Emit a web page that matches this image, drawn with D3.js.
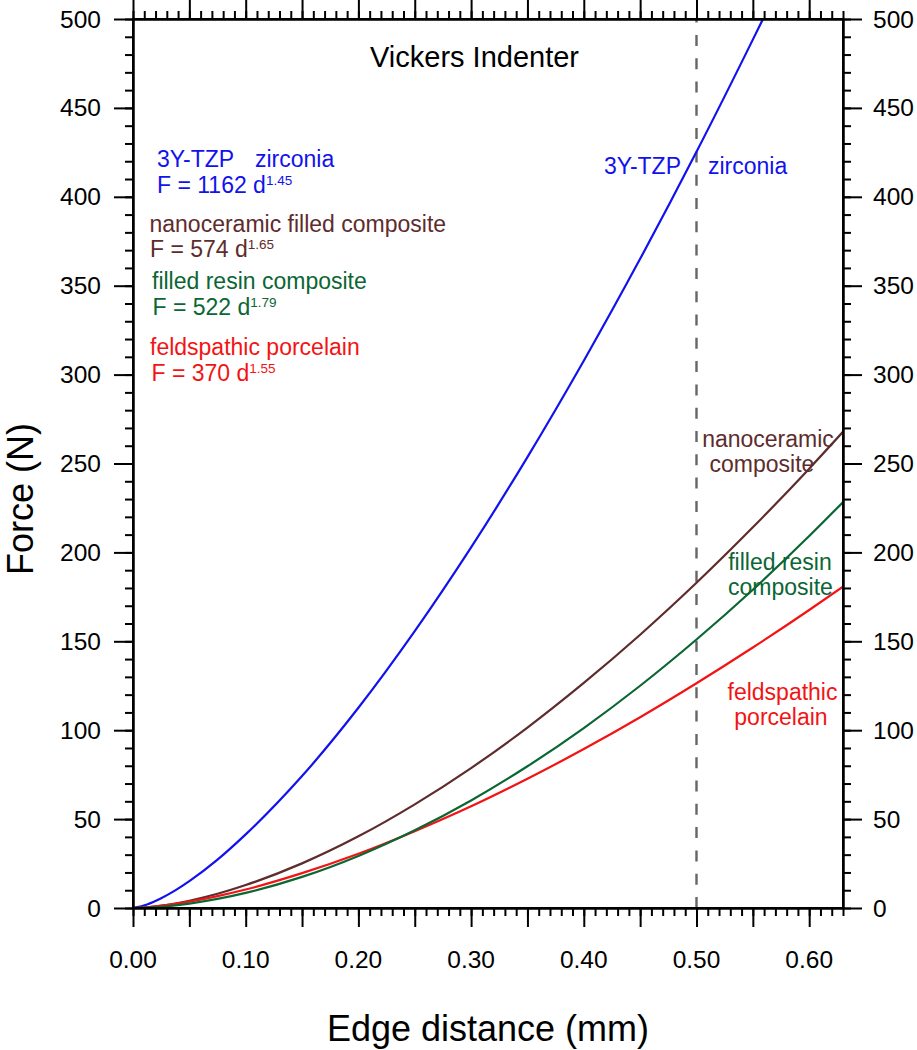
<!DOCTYPE html>
<html>
<head>
<meta charset="utf-8">
<script src="https://cdn.jsdelivr.net/npm/d3@7"></script>
<style>
  html, body { margin: 0; padding: 0; background: #fff; }
  svg { display: block; font-family: "Liberation Sans", Arial, Helvetica, sans-serif; }
</style>
</head>
<body>
<svg id="chart" width="917" height="1050"></svg>
<script>
// ---- data ----
const distances = [0, 0.0125, 0.025, 0.0375, 0.05, 0.075, 0.10, 0.15, 0.20, 0.25, 0.30, 0.35, 0.40, 0.45, 0.50, 0.55, 0.60, 0.63];
const zirconiaDistances = [0, 0.0125, 0.025, 0.0375, 0.05, 0.075, 0.10, 0.15, 0.20, 0.25, 0.30, 0.35, 0.40, 0.45, 0.50, 0.55, 0.56];
const zirconiaForce = [0, 2.0, 5.5, 9.9, 15.1, 27.2, 41.4, 74.2, 112.6, 155.7, 202.8, 253.6, 307.8, 365.1, 425.3, 488.4, 501.3];
const nanoceramicForce = [0, 0.42, 1.3, 2.55, 4.1, 8.0, 12.9, 25.1, 40.3, 58.3, 78.7, 101.5, 126.6, 153.7, 182.9, 214.1, 247.1, 267.8];
const filledResinForce = [0, 0.2, 0.7, 1.46, 2.5, 5.1, 8.5, 17.5, 29.3, 43.7, 60.5, 79.7, 101.2, 125.0, 151.0, 179.0, 209.2, 228.3];
const feldspathicForce = [0, 0.42, 1.2, 2.28, 3.6, 6.7, 10.4, 19.6, 30.5, 43.2, 57.2, 72.7, 89.4, 107.3, 126.4, 146.5, 167.6, 180.8];
const xTickLabels = [0.00, 0.10, 0.20, 0.30, 0.40, 0.50, 0.60];
const yTickLabels = [0, 50, 100, 150, 200, 250, 300, 350, 400, 450, 500];
const xDomain = [0, 0.63];
const yDomain = [0, 500];
const markerDistance = 0.50;

const colors = { zirconia: "#1212ee", nano: "#5e2c2c", resin: "#0b6633", feld: "#f21414" };

const svg = d3.select("#chart");
const L = 133, R = 843, T = 19, B = 908;
const x = d3.scaleLinear().domain(xDomain).range([L, R]);
const y = d3.scaleLinear().domain(yDomain).range([B, T]);

// clip
svg.append("defs").append("clipPath").attr("id", "clip")
  .append("rect").attr("x", L).attr("y", T).attr("width", R - L).attr("height", B - T);

// dashed marker line
svg.append("line")
  .attr("x1", x(markerDistance)).attr("x2", x(markerDistance))
  .attr("y1", y(0)).attr("y2", y(500))
  .attr("stroke", "#666").attr("stroke-width", 2.4)
  .attr("stroke-dasharray", "11,12.3");

// curves
const line = d3.line().x(d => x(d[0])).y(d => y(d[1])).curve(d3.curveMonotoneX);
const series = [
  { d: zirconiaDistances, v: zirconiaForce, c: colors.zirconia },
  { d: distances, v: nanoceramicForce, c: colors.nano },
  { d: distances, v: feldspathicForce, c: colors.feld },
  { d: distances, v: filledResinForce, c: colors.resin },
];
const gCurves = svg.append("g").attr("clip-path", "url(#clip)");
series.forEach(s => {
  gCurves.append("path")
    .datum(s.d.map((dd, i) => [dd, s.v[i]]))
    .attr("d", line)
    .attr("fill", "none")
    .attr("stroke", s.c)
    .attr("stroke-width", 2.2);
});

// axes
const majorX = d3.range(0, 0.6301, 0.05);
const minorX = d3.range(0, 0.6301, 0.01);
const majorY = d3.range(0, 501, 50);
const minorY = d3.range(0, 501, 10);

function styleAxis(g) {
  g.selectAll("path.domain").attr("stroke", "#000").attr("stroke-width", 2);
  g.selectAll(".tick line").attr("stroke", "#000").attr("stroke-width", 2);
  g.selectAll("text").remove();
}

// bottom
svg.append("g").attr("transform", `translate(0,${B})`)
  .call(d3.axisBottom(x).tickValues(minorX).tickSize(8).tickSizeOuter(0)).call(styleAxis);
svg.append("g").attr("transform", `translate(0,${B})`)
  .call(d3.axisBottom(x).tickValues(majorX).tickSize(19).tickSizeOuter(0)).call(styleAxis);
// top
svg.append("g").attr("transform", `translate(0,${T})`)
  .call(d3.axisTop(x).tickValues(minorX).tickSize(8).tickSizeOuter(0)).call(styleAxis);
svg.append("g").attr("transform", `translate(0,${T})`)
  .call(d3.axisTop(x).tickValues(majorX).tickSize(19).tickSizeOuter(0)).call(styleAxis);
// left
svg.append("g").attr("transform", `translate(${L},0)`)
  .call(d3.axisLeft(y).tickValues(minorY).tickSize(8).tickSizeOuter(0)).call(styleAxis);
svg.append("g").attr("transform", `translate(${L},0)`)
  .call(d3.axisLeft(y).tickValues(majorY).tickSize(19).tickSizeOuter(0)).call(styleAxis);
// right
svg.append("g").attr("transform", `translate(${R},0)`)
  .call(d3.axisRight(y).tickValues(minorY).tickSize(8).tickSizeOuter(0)).call(styleAxis);
svg.append("g").attr("transform", `translate(${R},0)`)
  .call(d3.axisRight(y).tickValues(majorY).tickSize(19).tickSizeOuter(0)).call(styleAxis);

// frame
svg.append("rect").attr("x", L).attr("y", T).attr("width", R - L).attr("height", B - T)
  .attr("fill", "none").attr("stroke", "#000").attr("stroke-width", 2);

// tick labels
svg.append("g").selectAll("text").data(xTickLabels).join("text")
  .attr("x", d => x(d)).attr("y", 968)
  .attr("text-anchor", "middle").attr("font-size", 24.5).attr("fill", "#000")
  .text(d => d3.format(".2f")(d));
svg.append("g").selectAll("text").data(yTickLabels).join("text")
  .attr("x", L - 32).attr("y", d => y(d) + 8.5)
  .attr("text-anchor", "end").attr("font-size", 24.5).attr("fill", "#000")
  .text(d => d);
svg.append("g").selectAll("text").data(yTickLabels).join("text")
  .attr("x", R + 30).attr("y", d => y(d) + 8.5)
  .attr("text-anchor", "start").attr("font-size", 24.5).attr("fill", "#000")
  .text(d => d);

// axis titles
svg.append("text").attr("x", (L + R) / 2).attr("y", 1041)
  .attr("text-anchor", "middle").attr("font-size", 36).attr("fill", "#000")
  .text("Edge distance (mm)");
svg.append("text").attr("transform", "translate(33,499) rotate(-90)")
  .attr("text-anchor", "middle").attr("font-size", 36).attr("fill", "#000")
  .text("Force (N)");

// title
svg.append("text").attr("x", 370).attr("y", 67).attr("font-size", 29).attr("fill", "#000")
  .text("Vickers Indenter");

// text helpers
function label(xp, yp, txt, col, anchor) {
  return svg.append("text").attr("x", xp).attr("y", yp).attr("font-size", 23)
    .attr("text-anchor", anchor || "start").attr("fill", col).text(txt);
}
function eqn(xp, yp, main, sup, col) {
  const t = svg.append("text").attr("x", xp).attr("y", yp).attr("font-size", 23).attr("fill", col);
  t.append("tspan").text(main);
  t.append("tspan").attr("font-size", 13.5).attr("dy", -8).text(sup);
}
// legend (left)
label(157, 167, "3Y-TZP", colors.zirconia);
label(255, 167, "zirconia", colors.zirconia);
eqn(157, 193, "F = 1162 d", "1.45", colors.zirconia);
label(149.5, 231.5, "nanoceramic filled composite", colors.nano);
eqn(150, 257, "F = 574 d", "1.65", colors.nano);
label(152, 288.5, "filled resin composite", colors.resin);
eqn(152.5, 315, "F = 522 d", "1.79", colors.resin);
label(150, 355, "feldspathic porcelain", colors.feld);
eqn(151.5, 381, "F = 370 d", "1.55", colors.feld);

// curve labels (right)
label(681, 174, "3Y-TZP", colors.zirconia, "end");
label(708, 174, "zirconia", colors.zirconia);
label(768, 447, "nanoceramic", colors.nano, "middle");
label(762, 472, "composite", colors.nano, "middle");
label(780, 570, "filled resin", colors.resin, "middle");
label(780.5, 595, "composite", colors.resin, "middle");
label(782.5, 700, "feldspathic", colors.feld, "middle");
label(781, 725, "porcelain", colors.feld, "middle");
</script>
</body>
</html>
